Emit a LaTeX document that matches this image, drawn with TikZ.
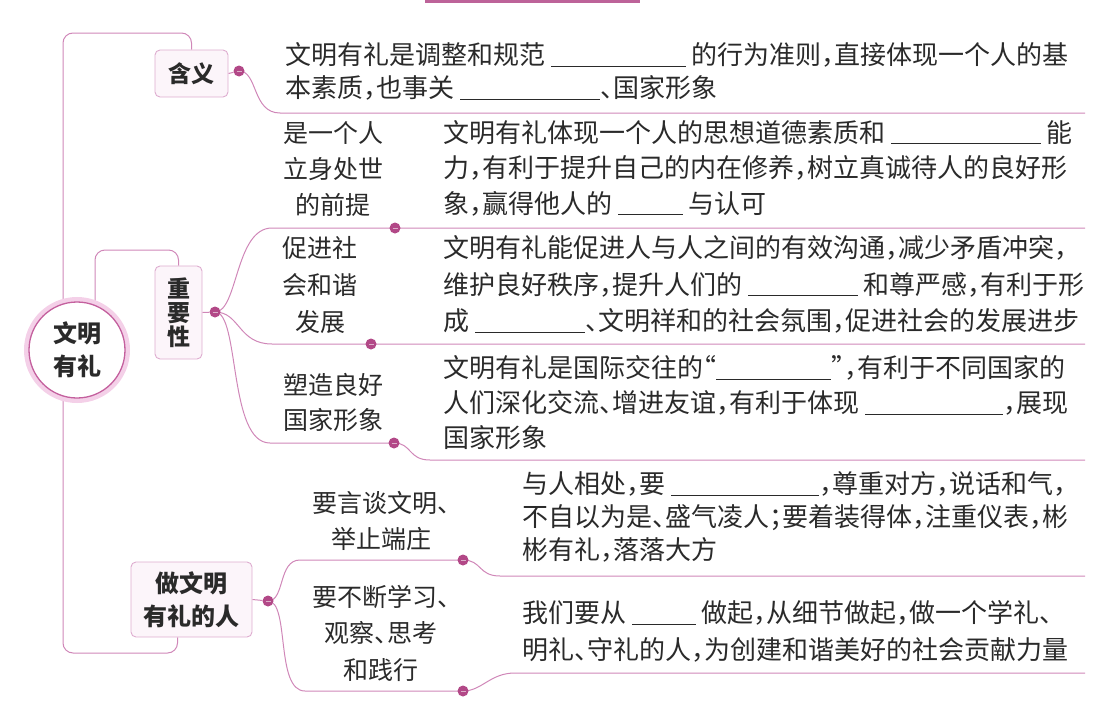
\documentclass[tikz,border=0pt]{standalone}
\usepackage{fontspec}
\setmainfont{Noto Sans CJK SC}[RawFeature=+halt]
\usepackage{tikz}
\usetikzlibrary{backgrounds}
\definecolor{linepink}{RGB}{208,135,184}
\definecolor{dotpink}{RGB}{178,72,135}
\definecolor{boxedge}{RGB}{222,172,207}
\definecolor{boxfill}{RGB}{252,245,250}
\definecolor{ringpink}{RGB}{244,208,232}
\definecolor{rootedge}{RGB}{196,96,158}
\definecolor{inkgray}{RGB}{42,42,42}
\newcommand{\blankfill}[1]{\rule[-2pt]{#1}{1.1pt}}

\begin{document}
\begin{tikzpicture}[x=1pt, y=-1pt, color=inkgray,
    link/.style={draw=linepink, line width=1pt},
    topic/.style={draw=boxedge, fill=boxfill, rounded corners=5pt, line width=0.9pt, inner sep=0pt, align=center},
    knob/.style={circle, fill=dotpink, inner sep=0pt, minimum size=11pt,
      path picture={\draw[white!55!dotpink, line width=0.8pt]
        ([xshift=-2.5pt]path picture bounding box.center) -- ([xshift=2.5pt]path picture bounding box.center);}},
    tag/.style={align=center, inner sep=2pt},
    body/.style={align=left, anchor=west, inner sep=2pt}]
  \useasboundingbox (0,0) rectangle (1102,712);
  \fill[dotpink!85] (425,0) rectangle (640,3);

  % centre and the three topics
  \node[circle, fill=white, draw=rootedge, line width=1.3pt, minimum size=96pt,
        preaction={draw=ringpink, line width=10pt}, align=center,
        font=\fontsize{24}{33}\selectfont\bfseries] (root) at (77,350) {文明\\有礼};
  \node[topic, minimum width=73pt, minimum height=47pt,
        font=\fontsize{23}{24}\selectfont\bfseries] (hanyi) at (191.5,73.5) {含义};
  \node[topic, minimum width=47pt, minimum height=93pt,
        font=\fontsize{23}{24}\selectfont\bfseries] (zhong) at (178.5,312.5) {重\\要\\性};
  \node[topic, minimum width=121pt, minimum height=75pt,
        font=\fontsize{24}{33}\selectfont\bfseries] (zuo) at (191.5,599.5) {做文明\\有礼的人};

  % knobs
  \node[knob] (kA) at (239,71) {};
  \node[knob] (kB) at (215,312) {};
  \node[knob] (kC) at (268,601) {};
  \node[knob] (k2) at (395,228) {};
  \node[knob] (k3) at (371,344) {};
  \node[knob] (k4) at (394,443) {};
  \node[knob] (k5) at (463,560) {};
  \node[knob] (k6) at (463,691) {};

  % line ends
  \coordinate (hyL) at (280,113);  \coordinate (hyR) at (1085,113);
  \coordinate (r2L) at (272,228);  \coordinate (r2R) at (1085,228);
  \coordinate (r3L) at (272,344);  \coordinate (r3R) at (1085,344);
  \coordinate (r4L) at (270,443);  \coordinate (r4M) at (430,460);  \coordinate (r4R) at (1085,460);
  \coordinate (z1L) at (300,560);  \coordinate (z1M) at (500,576);  \coordinate (z1R) at (1085,576);
  \coordinate (z2L) at (305,691);  \coordinate (z2M) at (515,673);  \coordinate (z2R) at (1085,673);

  % labels
  \node[tag, font=\fontsize{25}{36}\selectfont] (tag2) at (333,169) {是一个人\\立身处世\\的前提};
  \node[tag, font=\fontsize{25}{37}\selectfont] (tag3) at (320,285) {促进社\\会和谐\\发展};
  \node[tag, font=\fontsize{25}{35}\selectfont] (tag4) at (333,402.5) {塑造良好\\国家形象};
  \node[tag, font=\fontsize{25}{36}\selectfont] (tag5) at (381,521) {要言谈文明、\\举止端庄};
  \node[tag, font=\fontsize{25}{36.5}\selectfont] (tag6) at (381,633) {要不断学习、\\观察、思考\\和践行};

  % texts
  \node[body, font=\fontsize{26}{33}\selectfont] (hyText) at (283,71.5)
    {文明有礼是调整和规范 \blankfill{135pt} 的行为准则，直接体现一个人的基\\本素质，也事关 \blankfill{140pt}、国家形象};
  \node[body, font=\fontsize{26}{35.5}\selectfont] (text2) at (441,168)
    {文明有礼体现一个人的思想道德素质和 \blankfill{150pt} 能\\力，有利于提升自己的内在修养，树立真诚待人的良好形\\象，赢得他人的 \blankfill{65pt} 与认可};
  \node[body, font=\fontsize{26}{36.5}\selectfont] (text3) at (441,284.5)
    {文明有礼能促进人与人之间的有效沟通，减少矛盾冲突，\\维护良好秩序，提升人们的 \blankfill{110pt} 和尊严感，有利于形\\成 \blankfill{110pt}、文明祥和的社会氛围，促进社会的发展进步};
  \node[body, font=\fontsize{26}{35}\selectfont] (text4) at (441,403)
    {文明有礼是国际交往的“\blankfill{115pt}”，有利于不同国家的\\人们深化交流、增进友谊，有利于体现 \blankfill{138pt}，展现\\国家形象};
  \node[body, font=\fontsize{26}{33}\selectfont] (text5) at (520,517)
    {与人相处，要 \blankfill{148pt}，尊重对方，说话和气，\\不自以为是、盛气凌人；要着装得体，注重仪表，彬\\彬有礼，落落大方};
  \node[body, font=\fontsize{26}{37}\selectfont] (text6) at (520,631.5)
    {我们要从 \blankfill{64pt} 做起，从细节做起，做一个学礼、\\明礼、守礼的人，为创建和谐美好的社会贡献力量};

  \begin{scope}[on background layer]
    \draw[link, rounded corners=10pt] (hanyi.north) |- (63,33) -- (63,653) -| ([xshift=-14pt]zuo.south);
    \draw[link, rounded corners=10pt] (zhong.north) -- (zhong.north |- 0,250) -| ([xshift=18pt]root.center);
    \draw[link] (hanyi.east) -- (kA);
    \draw[link] (zhong.east) -- (kB);
    \draw[link] (zuo.east) -- (kC);
    \draw[link] (kA.center) .. controls (258,71) and (252,113) .. (hyL) -- (hyR);
    \draw[link] (kB.center) .. controls (238,312) and (235,228) .. (r2L) -- (k2.center) -- (r2R);
    \draw[link] (kB.center) .. controls (240,312) and (238,344) .. (r3L) -- (k3.center) -- (r3R);
    \draw[link] (kB.center) .. controls (240,312) and (228,443) .. (r4L) -- (k4.center)
      .. controls (412,443) and (408,460) .. (r4M) -- (r4R);
    \draw[link] (kC.center) .. controls (285,601) and (278,560) .. (z1L) -- (k5.center)
      .. controls (482,560) and (478,576) .. (z1M) -- (z1R);
    \draw[link] (kC.center) .. controls (290,601) and (275,691) .. (z2L) -- (k6.center)
      .. controls (482,691) and (490,673) .. (z2M) -- (z2R);
  \end{scope}
\end{tikzpicture}
\end{document}
